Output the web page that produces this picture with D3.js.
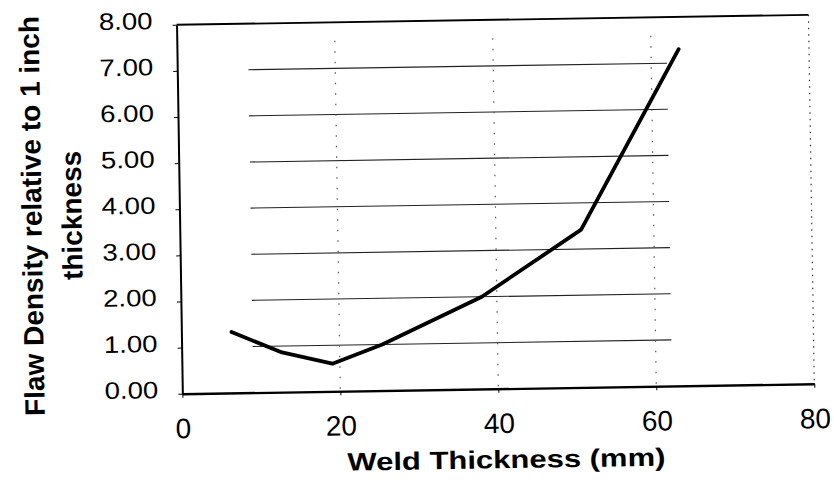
<!DOCTYPE html>
<html>
<head>
<meta charset="utf-8">
<script src="https://cdn.jsdelivr.net/npm/d3@7"></script>
<style>
body { margin: 0; background: #fff; }
svg { display: block; font-family: "Liberation Sans", Arial, sans-serif; }
</style>
</head>
<body>
<svg id="chart" width="834" height="487"></svg>
<script>
const thickness = [6.35, 12.7, 19.05, 25.4, 38.1, 50.8, 63.5];
const flawDensity = [1.32, 0.86, 0.6, 1.0, 2.0, 3.42, 7.3];
const xTicks = [0, 20, 40, 60, 80];
const yTicks = [0, 1, 2, 3, 4, 5, 6, 7, 8];
const xTitle = "Weld Thickness (mm)";
const yTitleLines = ["Flaw Density relative to 1 inch", "thickness"];

const svg = d3.select("#chart");
const width = +svg.attr("width");
const height = +svg.attr("height");
const margin = {top: 21, right: 22, bottom: 97, left: 180};
const innerWidth = width - margin.left - margin.right;
const innerHeight = height - margin.top - margin.bottom;
const stretch = 1.15; // the scan is a bit wider than it is tall

// the scanned original is tilted slightly, so the whole drawing is turned with it
const root = svg.append("g").attr("transform", "rotate(-0.9,417,243)");
const chart = root.append("g")
    .attr("transform", "translate(" + margin.left + "," + margin.top + ")");

const x = d3.scaleLinear().domain([0, 80]).range([0, innerWidth]);
const y = d3.scaleLinear().domain([0, 8]).range([innerHeight, 0]);

// faded horizontal gridlines (they only span the middle of the plot in the scan)
chart.selectAll(".hgrid")
    .data(yTicks.filter(d => d > 0 && d < 8))
    .enter()
    .append("line")
        .attr("class", "hgrid")
        .attr("x1", x(9))
        .attr("x2", x(62))
        .attr("y1", d => y(d))
        .attr("y2", d => y(d))
        .style("stroke", "#222")
        .style("stroke-width", 1.1);

// sparse dotted vertical gridlines
chart.selectAll(".vgrid")
    .data(xTicks.filter(d => d > 0 && d < 80))
    .enter()
    .append("line")
        .attr("class", "vgrid")
        .attr("x1", d => x(d))
        .attr("x2", d => x(d))
        .attr("y1", y(7.6))
        .attr("y2", innerHeight + 4)
        .style("stroke", "#555")
        .style("stroke-width", 1.2)
        .style("stroke-dasharray", "1.5,9");

// frame: solid top, dotted right
chart.append("line")
    .attr("x1", 0).attr("x2", innerWidth)
    .attr("y1", 0).attr("y2", 0)
    .style("stroke", "#000").style("stroke-width", 1.8);
chart.append("line")
    .attr("x1", innerWidth).attr("x2", innerWidth)
    .attr("y1", 0).attr("y2", innerHeight)
    .style("stroke", "#333").style("stroke-width", 1.2)
    .style("stroke-dasharray", "1.5,5");

const yAxisG = chart.append("g")
    .call(d3.axisLeft(y).tickValues(yTicks).tickFormat(d3.format(".2f")).tickSize(4).tickSizeOuter(0));
yAxisG.select(".domain").style("stroke-width", 2);
yAxisG.selectAll("text")
    .attr("x", -24 / stretch)
    .attr("dy", "0.15em")
    .attr("transform", "scale(" + stretch + ",1)")
    .style("font-size", "24px")
    .style("fill", "#000");

const xAxisG = chart.append("g")
    .attr("transform", "translate(0," + innerHeight + ")")
    .call(d3.axisBottom(x).tickValues(xTicks).tickSize(4).tickSizeOuter(0));
xAxisG.select(".domain").style("stroke-width", 2.4);
xAxisG.selectAll("text")
    .attr("y", 24.5)
    .style("font-size", "28px")
    .style("fill", "#000");

const line = d3.line()
    .x(d => x(d[0]))
    .y(d => y(d[1]));

chart.append("path")
    .datum(d3.zip(thickness, flawDensity))
    .attr("d", line)
    .style("fill", "none")
    .style("stroke", "#000")
    .style("stroke-width", 3.8)
    .style("stroke-linejoin", "round")
    .style("stroke-linecap", "round");

root.append("text")
    .attr("x", 503)
    .attr("y", 469.5)
    .attr("text-anchor", "middle")
    .attr("textLength", 318)
    .attr("lengthAdjust", "spacingAndGlyphs")
    .style("font-size", "25px")
    .style("font-weight", "bold")
    .text(xTitle);

root.selectAll(".ytitle")
    .data(yTitleLines)
    .enter()
    .append("text")
        .attr("class", "ytitle")
        .attr("transform", (d, i) => "translate(" + (42 + i * 40) + ",210) rotate(-90)")
        .attr("text-anchor", "middle")
        .style("font-size", "28px")
        .style("font-weight", "bold")
        .text(d => d);
</script>
</body>
</html>
